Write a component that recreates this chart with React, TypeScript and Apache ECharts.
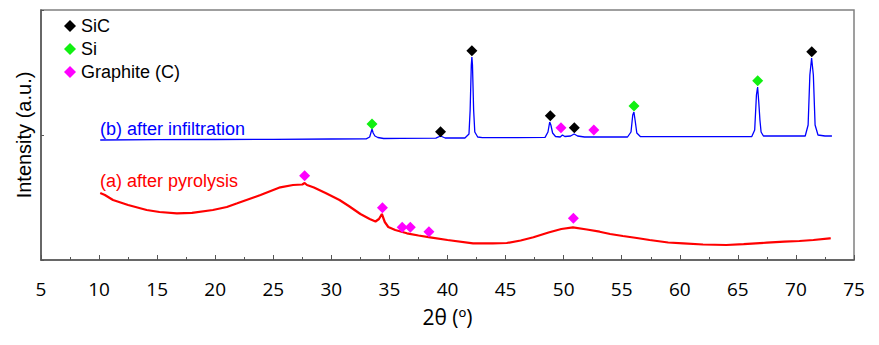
import React, { useEffect, useRef } from "react";
import * as echarts from "echarts";

// 2θ (deg), intensity (a.u., arbitrary offset scale)
const afterInfiltration: [number, number][] = [
  [10.1, 120], [15, 120.3], [20, 120.5], [25, 120.7], [30, 121], [33.0, 121.2],
  [33.3, 123], [33.5, 131], [33.6, 127], [33.75, 124], [34.0, 122.5], [34.5, 121.5],
  [36, 121.6], [39.0, 121.8], [39.4, 124], [39.8, 122], [41.5, 122], [41.85, 126],
  [41.95, 150], [42.05, 195], [42.1, 203], [42.15, 195], [42.25, 150], [42.35, 128],
  [42.6, 123], [43, 122.3], [46, 122.3], [48.4, 122.6], [48.65, 128], [48.8, 138],
  [48.9, 135], [49.05, 127], [49.3, 123.5], [49.7, 123], [49.9, 125], [50.1, 123.5],
  [50.6, 124], [50.9, 126], [51.2, 124], [51.8, 123], [55.5, 123], [55.8, 128],
  [55.95, 145], [56.05, 148], [56.15, 140], [56.3, 127], [56.6, 123.5], [60, 123.3],
  [66.2, 123.5], [66.45, 130], [66.6, 165], [66.7, 173], [66.8, 158], [66.9, 140],
  [67.0, 128], [67.2, 124], [70.8, 124], [71.05, 135], [71.2, 185], [71.35, 202],
  [71.5, 185], [71.65, 135], [71.9, 125], [72.5, 124], [73.1, 124],
];

const afterPyrolysis: [number, number][] = [
  [10.1, 67], [10.5, 65], [11.2, 60], [12.5, 55], [14.1, 50], [15.2, 48], [16.7, 46.7],
  [18, 47.2], [19.8, 50], [21, 53], [21.9, 56.7], [23.9, 65], [25.6, 72.7], [26.7, 75],
  [27.5, 75.5], [27.7, 77], [27.9, 75], [28.5, 72.5], [29.5, 67], [30.7, 60], [31.5, 54],
  [32.5, 46], [33.3, 41], [33.8, 38.5], [34.1, 41], [34.35, 46], [34.6, 38], [34.9, 33],
  [35.5, 30], [36.5, 26.7], [37.5, 24.5], [38.5, 22.7], [40, 20], [42.2, 16.7],
  [43.9, 16.7], [45.1, 17], [46.3, 19.5], [47.4, 22.7], [48.7, 27.5], [49.8, 31],
  [50.8, 32.7], [52, 30.5], [53.1, 28.3], [54, 26], [55.1, 24], [56.3, 22], [57.4, 20],
  [59, 17.5], [60.3, 16.7], [62, 15.5], [64, 15], [65.5, 15.8], [67.5, 17.3], [69, 18.3],
  [70.3, 19], [71.5, 20], [72.9, 21.7], [73.0, 21.5],
];

const sicMarkers: [number, number][] = [
  [39.4, 128.3], [42.1, 209.3], [48.85, 144.3], [50.92, 132.3], [71.36, 208.3],
];
const siMarkers: [number, number][] = [
  [33.5, 136], [56.06, 154], [66.71, 179.3],
];
const graphiteMarkers: [number, number][] = [
  [49.77, 132.3], [52.6, 130], [27.7, 84.3], [34.4, 52.3], [36.1, 32.7],
  [36.8, 32.7], [38.4, 28.3], [50.84, 41.7],
];

const legendNames = ["SiC", "Si", "Graphite (C)"];
const curveLabels = ["(b) after infiltration", "(a) after pyrolysis"];

export default function App() {
  const ref = useRef<HTMLDivElement>(null);
  useEffect(() => {
    if (!ref.current) return;
    const chart = echarts.init(ref.current, null, { renderer: "svg" });
    const markerStyle = (color: string) => ({
      type: "scatter" as const,
      symbol: "diamond",
      symbolSize: 11,
      itemStyle: { color, opacity: 1 },
      z: 5,
    });
    chart.setOption({
      animation: false,
      backgroundColor: "#ffffff",
      grid: {
        left: 41,
        right: 25,
        top: 10,
        bottom: 85,
        show: true,
        borderColor: "#808080",
        borderWidth: 1.5,
      },
      legend: {
        data: legendNames,
        orient: "vertical",
        left: 64,
        top: 17,
        padding: 0,
        itemGap: 5,
        itemWidth: 12,
        itemHeight: 12,
        icon: "diamond",
        textStyle: { fontFamily: "Liberation Sans", fontSize: 18, color: "#000" },
      },
      xAxis: {
        type: "value",
        min: 5,
        max: 75,
        interval: 5,
        name: "2θ (º)",
        nameLocation: "middle",
        nameGap: 46,
        nameTextStyle: { fontFamily: "Open Sans", fontSize: 21, color: "#000" },
        axisLine: { lineStyle: { color: "#555", width: 1.5 } },
        axisTick: { inside: true, length: 5, lineStyle: { color: "#555" } },
        minorTick: { show: true, splitNumber: 2, length: 3, lineStyle: { color: "#555" } },
        axisLabel: { fontFamily: "Open Sans", fontSize: 19, color: "#000", margin: 19 },
        splitLine: { show: false },
      },
      yAxis: {
        type: "value",
        min: 0,
        max: 250,
        interval: 125,
        name: "Intensity (a.u.)",
        nameLocation: "middle",
        nameGap: 7,
        nameTextStyle: { fontFamily: "Liberation Sans", fontSize: 20, color: "#000" },
        axisLine: { show: true, lineStyle: { color: "#555", width: 1.5 } },
        axisTick: { inside: true, length: 3, lineStyle: { color: "#555" } },
        axisLabel: { show: false },
        splitLine: { show: false },
      },
      graphic: [
        {
          type: "text",
          left: 100,
          top: 120,
          style: { text: curveLabels[0], fill: "#0000ff", font: "18px 'Liberation Sans'" },
        },
        {
          type: "text",
          left: 100,
          top: 172,
          style: { text: curveLabels[1], fill: "#ff0000", font: "18px 'Liberation Sans'" },
        },
      ],
      series: [
        {
          type: "line",
          data: afterInfiltration,
          showSymbol: false,
          lineStyle: { color: "#0000ff", width: 1.3 },
          z: 2,
        },
        {
          type: "line",
          data: afterPyrolysis,
          showSymbol: false,
          lineStyle: { color: "#ff0000", width: 2.2 },
          z: 2,
        },
        { ...markerStyle("#000000"), name: legendNames[0], data: sicMarkers },
        { ...markerStyle("#11f011"), name: legendNames[1], data: siMarkers },
        { ...markerStyle("#ff00ff"), name: legendNames[2], data: graphiteMarkers },
      ],
    });
    return () => chart.dispose();
  }, []);
  return (
    <div
      ref={ref}
      style={{ position: "fixed", left: 0, top: 0, width: 879, height: 345, background: "#fff" }}
    />
  );
}
